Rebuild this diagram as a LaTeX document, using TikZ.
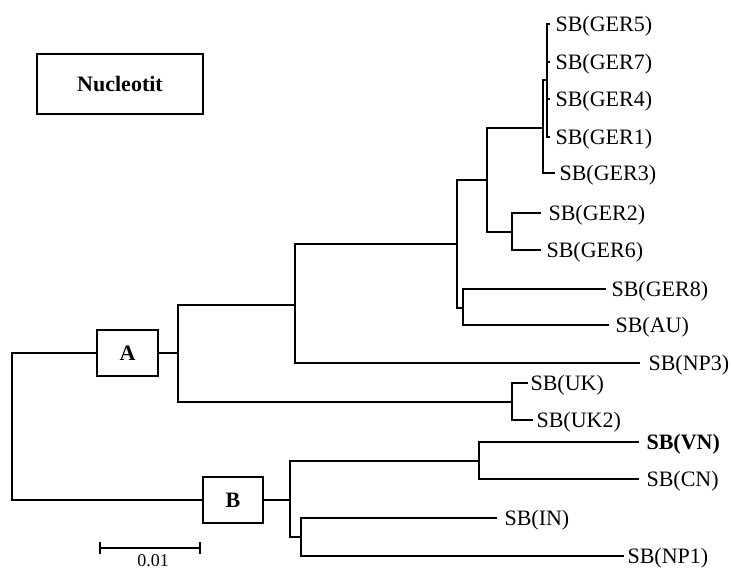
\documentclass[tikz,border=0pt]{standalone}
\usepackage{fontspec}
\setmainfont{Liberation Serif}
\begin{document}
\begin{tikzpicture}[x=1pt,y=-1pt, line width=1.1pt,
  lab/.style={font=\fontsize{22}{26}\selectfont, inner sep=0pt, anchor=base west, yshift=-7.5pt},
  boxnode/.style={draw, line width=1.1pt, font=\fontsize{22}{26}\selectfont\bfseries, inner sep=0pt, minimum height=46pt}]
\useasboundingbox (0,0) rectangle (731,571);

% title box
\node[boxnode, minimum width=166pt, minimum height=60pt] (title) at (120,84) {Nucleotit};

% clade boxes
\node[boxnode, minimum width=61pt] (A) at (127.5,353) {A};
\node[boxnode, minimum width=60pt] (B) at (233,500) {B};

% internal nodes
\coordinate (r) at (12,426.5);
\coordinate (nA) at (178,353);
\coordinate (n295) at (295,305);
\coordinate (n457) at (457,244);
\coordinate (n487) at (487,180);
\coordinate (n543) at (543,128);
\coordinate (n547) at (547,80);
\coordinate (n512) at (512,232);
\coordinate (n463) at (463,308);
\coordinate (nUK) at (512,402);
\coordinate (nB) at (290,500);
\coordinate (nVN) at (479,461);
\coordinate (nIN) at (301,537);

% tips
\coordinate (tGER5) at (550,24);
\coordinate (tGER7) at (550,62);
\coordinate (tGER4) at (550,99);
\coordinate (tGER1) at (550,137);
\coordinate (tGER3) at (555,173);
\coordinate (tGER2) at (541,213);
\coordinate (tGER6) at (541,250);
\coordinate (tGER8) at (606,289);
\coordinate (tAU) at (609,325);
\coordinate (tNP3) at (640,363);
\coordinate (tUK) at (528,383);
\coordinate (tUK2) at (533,420);
\coordinate (tVN) at (639,442);
\coordinate (tCN) at (639,479);
\coordinate (tIN) at (497,518);
\coordinate (tNP1) at (624,556);

% labels
\node[lab] (lGER5) at (555,24) {SB(GER5)};
\node[lab] (lGER7) at (555,62) {SB(GER7)};
\node[lab] (lGER4) at (555,99) {SB(GER4)};
\node[lab] (lGER1) at (555,137) {SB(GER1)};
\node[lab] (lGER3) at (559,173) {SB(GER3)};
\node[lab] (lGER2) at (548,213) {SB(GER2)};
\node[lab] (lGER6) at (546,250) {SB(GER6)};
\node[lab] (lGER8) at (611,289) {SB(GER8)};
\node[lab] (lAU) at (615,325) {SB(AU)};
\node[lab] (lNP3) at (648,363) {SB(NP3)};
\node[lab] (lUK) at (530,383) {SB(UK)};
\node[lab] (lUK2) at (536,420) {SB(UK2)};
\node[lab,font=\fontsize{22}{26}\selectfont\bfseries] (lVN) at (646,442) {SB(VN)};
\node[lab] (lCN) at (646,479) {SB(CN)};
\node[lab] (lIN) at (504,518) {SB(IN)};
\node[lab] (lNP1) at (627,556) {SB(NP1)};

% branches
\draw (r) |- (A.west);
\draw (r) |- (B.west);
\draw (A.east) -- (nA);
\draw (nA) |- (n295);
\draw (nA) |- (nUK);
\draw (n295) |- (n457);
\draw (n295) |- (tNP3);
\draw (n457) |- (n487);
\draw (n457) |- (n463);
\draw (n487) |- (n543);
\draw (n487) |- (n512);
\draw (n543) |- (n547);
\draw (n543) |- (tGER3);
\draw (n547) |- (tGER5);
\draw (n547) |- (tGER7);
\draw (n547) |- (tGER4);
\draw (n547) |- (tGER1);
\draw (n512) |- (tGER2);
\draw (n512) |- (tGER6);
\draw (n463) |- (tGER8);
\draw (n463) |- (tAU);
\draw (nUK) |- (tUK);
\draw (nUK) |- (tUK2);
\draw (B.east) -- (nB);
\draw (nB) |- (nVN);
\draw (nB) |- (nIN);
\draw (nVN) |- (tVN);
\draw (nVN) |- (tCN);
\draw (nIN) |- (tIN);
\draw (nIN) |- (tNP1);

% scale bar
\coordinate (s1) at (100,548);
\coordinate (s2) at (200,548);
\draw (s1) -- (s2);
\draw ([yshift=6pt]s1) -- ([yshift=-6pt]s1);
\draw ([yshift=6pt]s2) -- ([yshift=-6pt]s2);
\node[font=\fontsize{18}{20}\selectfont, inner sep=0pt, anchor=base] (scl) at (153,566) {0.01};
\end{tikzpicture}
\end{document}
